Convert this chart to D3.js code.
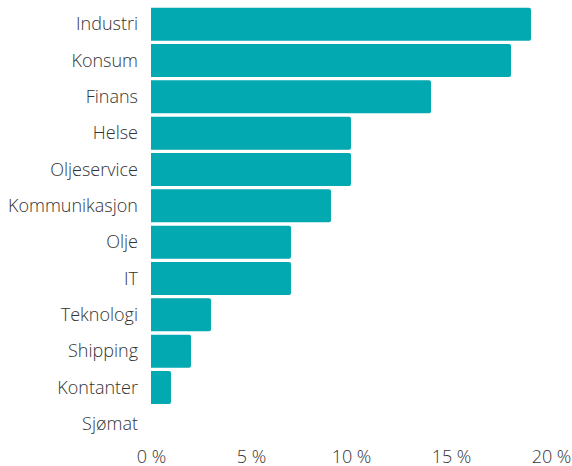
<!DOCTYPE html>
<html>
<head>
<meta charset="utf-8">
<script src="https://cdn.jsdelivr.net/npm/d3@7"></script>
<style>
  body { margin: 0; background: #fff; }
  text { font-family: "Open Sans", sans-serif; font-weight: 300; fill: #333; }
</style>
</head>
<body>
<div id="chart"></div>
<script>
// sectors and their share (%)
const sectors = ["Industri", "Konsum", "Finans", "Helse", "Oljeservice", "Kommunikasjon",
                 "Olje", "IT", "Teknologi", "Shipping", "Kontanter", "Sjømat"];
const shares = [19, 18, 14, 10, 10, 9, 7, 7, 3, 2, 1, 0];
const xTicks = [0, 5, 10, 15, 20];

const w = 572, h = 466;
const left = 151, right = 551;

const svg = d3.select("#chart").append("svg")
  .attr("width", w)
  .attr("height", h);

const x = d3.scaleLinear().domain([0, 20]).range([left, right]);
const y = d3.scaleBand().domain(sectors).range([6, 442]).paddingInner(0.09).paddingOuter(0.045);

const data = sectors.map((s, i) => ({ name: s, value: shares[i] }));

// bars, square on the left and slightly rounded on the right
const r = 2;
svg.selectAll("path.bar")
  .data(data.filter(d => d.value > 0))
  .enter()
  .append("path")
  .attr("class", "bar")
  .attr("fill", "#02a9b1")
  .attr("d", d => {
    const x0 = x(0), x1 = x(d.value), y0 = y(d.name), y1 = y0 + y.bandwidth();
    return `M${x0},${y0}H${x1 - r}Q${x1},${y0} ${x1},${y0 + r}V${y1 - r}Q${x1},${y1} ${x1 - r},${y1}H${x0}Z`;
  });

// category labels
svg.selectAll("text.cat")
  .data(sectors)
  .enter()
  .append("text")
  .attr("class", "cat")
  .attr("x", 138)
  .attr("y", d => y(d) + y.bandwidth() / 2)
  .attr("dy", "0.35em")
  .attr("text-anchor", "end")
  .style("font-size", "18px")
  .text(d => d);

// x axis labels
const xAxis = d3.axisBottom(x).tickValues(xTicks).tickSize(0).tickPadding(0)
  .tickFormat(d => d + " %");
svg.append("g")
  .attr("transform", "translate(0,451)")
  .call(xAxis)
  .call(g => g.select(".domain").remove())
  .call(g => g.selectAll("text").style("font-size", "18px").attr("dy", "0.35em").attr("y", 6).attr("fill", null));
</script>
</body>
</html>
